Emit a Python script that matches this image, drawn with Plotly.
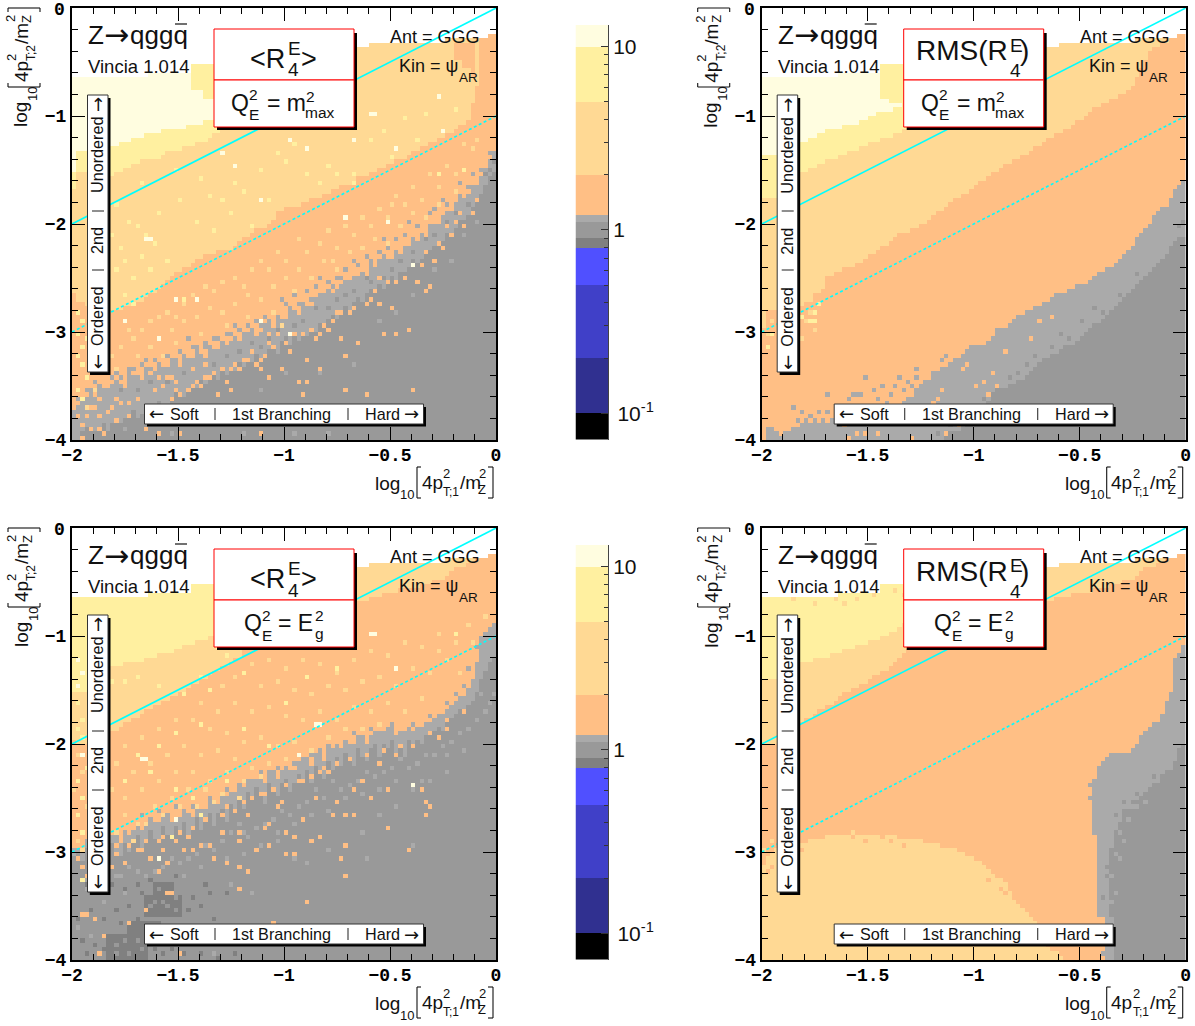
import math
import plotly.graph_objects as go

W, H = 1195, 1026
DX, DY = 689.7, 520
PANEL_X = (72, 496)
PANEL_Y = (8, 440)
CBAR_X = (575.5, 608)
CBAR_Y = (25, 439.5)

X_TICKS = [-2, -1.5, -1, -0.5, 0]
X_TEXT = ["−2", "−1.5", "−1", "−0.5", "0"]
Y_TICKS = [-4, -3, -2, -1]
Y_TEXT = ["−4", "−3", "−2", "−1"]
Y_TOP_TEXT = "0"
X_MINOR = [-1.9, -1.8, -1.7, -1.6, -1.4, -1.3, -1.2, -1.1, -0.9, -0.8, -0.7, -0.6, -0.4, -0.3, -0.2, -0.1]
Y_MINOR = [-3.8, -3.6, -3.4, -3.2, -2.8, -2.6, -2.4, -2.2, -1.8, -1.6, -1.4, -1.2, -0.8, -0.6, -0.4, -0.2]
DIAG_X = [-2, 0]
DIAG_SOLID = [-2, 0]
DIAG_DOT = [-3, -1]

# colour levels
LEVELS = [0.072, 0.1, 0.2, 0.5, 0.8, 0.9, 1.1, 1.2, 2, 5, 10, 13.1]
COLORS = ["#000000", "#303090", "#4040C8", "#5050FF", "#808080", "#999999",
          "#AAAAAA", "#FFBF85", "#FFD994", "#FFF0A0", "#FFFDE0"]
CB_TICKS = [0.1, 1, 10]
CB_TEXT = ["\u200910<sup>-1</sup>", "1", "10"]
CB_MINOR = [0.2, 0.3, 0.4, 0.5, 0.6, 0.7, 0.8, 0.9, 2, 3, 4, 5, 6, 7, 8, 9]

DK, MID, LG, OR, FD, YE, PA = 0.85, 1.0, 1.15, 1.5, 3.2, 7.0, 11.0

# first filled row (counted from the top) in each of the 100 columns
TOP = [16]*18 + [15]*10 + [13]*39 + [9]*3 + [8]*18 + [7]*10 + [6]*2
FULL = [100]*100

# ---- panel 1: <R> , m2max
P1_PALE = [38,33,33,33,33,33,33,33,33,32, 32,31,31,31,30,30,30,29,29,29,
           29,28,28,28,28,28,28,27,27,27, 27,26,26,26] + [0]*66
P1_YEL = [42,38,38,38,38,38,38,38,38,39, 38,38,37,37,36,36,35,35,35,35,
          34,34,33,33,33,33,32,32,32,31, 31,31,30,29,29,28,28] + [0]*63
P1_FD = [66,68,68,69,70,70,70,70,70,70, 70,70,69,69,69,68,68,67,66,66,
         65,64,63,62,61,61,60,60,59,58, 58,57,57,57,56,56,56,56,55,54,
         53,53,52,51,51,51,50,49,47,47, 46,46,46,46,45,45,44,44,44,43,
         43,42,42,41,41,41,40,39,39,39, 38,38,37,37,36,36,35,35,35,34,
         33,33,32,32,31,31,30,30,29,29, 28,27,27,26,22,18,7,7,6,6]
P1_OR = [93,92,92,90,89,90,88,88,89,87, 86,87,87,84,85,85,85,83,84,84,
         82,83,83,81,82,83,81,81,81,79, 80,81,78,79,79,77,78,77,76,77,
         76,75,74,76,75,73,73,74,71,72, 72,70,70,71,68,69,69,67,66,67,
         65,66,65,64,63,64,62,62,61,62, 59,60,59,57,58,58,56,57,55,55,
         53,54,52,53,51,50,50,48,47,47, 45,44,44,43,41,41,39,37,35,33]
P1_LG = [100,100,98,97,97,98,97,96,98,96, 95,96,95,95,93,95,94,92,94,92,
         91,92,92,90,89,90,90,88,87,88, 86,87,86,85,86,84,85,83,84,82,
         83,81,82,80,81,81,79,79,80,77, 78,78,76,77,75,76,74,75,73,73,
         72,71,72,70,69,70,68,67,68,66, 65,66,64,65,63,62,63,61,61,60,
         58,59,58,56,56,55,54,54,52,52, 51,49,49,48,46,45,43,41,39,38]
P1_BOX = [(28,33,13,18,YE),(31,33,19,20,YE),(90,91,8,11,OR),(92,93,8,13,OR),(94,94,8,15,OR)]
P1_DOT_PA = [(70,24),(71,24),(86,20),(44,44),(76,32),(17,53),(18,53),(74,49),(38,36),(64,48),(35,33),(51,30),
             (55,32),(24,67),(29,67),(44,72),(51,75),(80,59),(20,76),(12,72),(87,28),(66,30)]
P1_DOT_YE = [(20,34),(25,44),(27,31),(32,43),(44,37),(38,40),(55,38),(58,40),(66,40),(66,38),(86,38),(92,37),
             (60,36),(48,33),(52,31),(70,30),(73,28),(78,25),(83,24),(90,23),(10,45),(13,49),(15,50),(17,52),
             (19,54),(20,47),(29,49),(33,51),(37,47),(42,50),(46,44),(16,40),(24,37),(30,39),(10,60),(12,58),
             (14,62),(18,60),(22,58),(12,66),(14,68),(26,67),(1,70),(2,72),(1,75),(3,76),(2,78),(1,80),(2,82),
             (3,85),(1,88),(2,90),(35,44),(40,42),(50,35),(62,38),(75,34),(81,30),(9,52),(11,55),(16,57)]
P1_DOT_FD = [(12,72),(13,74),(14,76),(11,78),(16,74),(18,72),(20,71),(22,70),(24,71),(26,68),(28,66),(31,64),
             (33,65),(35,63),(38,62),(40,64),(42,60),(44,58),(46,60),(48,56),(50,58),(53,53),(55,56),(58,54),
             (60,51),(62,55),(64,50),(66,52),(68,48),(70,50),(72,46),(74,48),(76,43),(78,45),(80,41),(82,44),
             (84,38),(86,41),(88,36),(90,38),(92,31),(94,32),(20,76),(23,74),(26,72),(29,71),(32,69),(35,70),
             (38,68),(41,66),(44,67),(47,64),(50,62),(53,60),(56,62),(59,58),(62,60),(65,56),(68,55),(71,53),
             (74,54),(77,50),(80,47),(83,48),(86,45),(15,80),(18,78),(21,80),(24,77),(30,75),(36,73),(41,71),
             (9,80),(10,83),(3,92),(5,88),(7,84),(47,70),(49,73),(52,65),(61,58),(75,45),(90,42),(95,30)]
P1_DOT_OR = [(80,88),(69,89),(64,88),(54,89),(53,86),(55,86),(58,83),(46,85),(44,83),(39,83),(37,88),(33,84),
             (31,85),(28,87),(25,89),(20,98),(25,98),(44,98),(79,74),(76,75),(73,75),(67,77),(63,76),(64,80),
             (62,70),(63,70),(70,67),(72,68),(75,69),(84,64),(83,65),(81,63),(51,75),(52,75),(48,75),(46,75),
             (44,72),(55,81),(49,83),(51,79),(42,79),(44,81),(40,81),(37,83),(31,82),(28,83),(22,85),(23,85),
             (24,86),(20,85),(18,84),(16,85),(12,87),(10,90),(6,90),(4,92),(5,92),(8,93),(13,91),(13,94),
             (2,96),(4,97),(7,98),(1,94),(88,50),(86,54),(91,47),(95,44),(60,74),(57,76),(34,89),(30,87),
             (2,99),(6,97),(10,95),(17,97),
             (94,47),(92,50),(89,52),(87,55),(85,58),(82,59),(78,62),(76,63),(74,63),(71,65),(69,68),(66,69),
             (65,70),(61,72),(59,73),(56,74),(54,75),(50,77),(47,78),(45,80),(43,82),(41,81),(38,82),(35,83),
             (32,85),(29,86),(27,88),(24,88),(21,87),(19,88),(15,90),(11,91),(9,92),(6,94),(3,94),(90,49),
             (83,56),(72,62),(58,75),(46,77),(36,86),(23,90)]
P1_DOT_LG = [(68,61),(65,63),(61,64),(59,66),(51,69),(48,71),(40,75),(34,76),(29,78),(26,80),(17,81),(18,83),
             (11,85),(8,88),(5,86),(72,58),(75,59),(77,57),(63,62),(56,67),(53,68),(44,73),(37,75),(31,78),
             (24,81),(20,82),(14,83),(10,84),(3,88),(80,53),(84,50),(88,45),(91,43),(94,41),(70,58),(46,72),
             (42,74),(96,37),(98,33),(58,84),(66,82),(72,72),(76,70),(80,66),(85,60),(89,58),(92,52),(95,49),
             (50,84),(44,88),(36,92),(30,92),(5,96),(12,97),(23,98),(40,98),(52,98),(60,98),
             (93,41),(90,42),(87,44),(84,47),(81,50),(78,52),(76,53),(74,55),(72,56),(69,57),(67,59),(64,60),
             (62,62),(60,63),(57,64),(55,65),(52,66),(50,68),(47,70),(45,71),(43,72),(41,73),(39,74),(36,75),
             (33,76),(31,77),(28,78),(25,79),(22,80),(19,81),(16,82),(13,83),(9,85),(6,87),(4,88),(2,91),(1,90),
             (94,38),(91,40),(85,46),(79,49),(73,53),(66,58),(58,62),(49,67),(38,73),(27,76),(15,80)]
P1_DOT_MID = [(70,63),(66,65),(60,69),(54,72),(48,74),(42,77),(36,80),(28,83),(22,86),(15,88),(75,60),(80,56),
              (85,52),(90,47),(93,45),(97,38),(99,35),(98,37),(73,62),(62,67),(50,76),(44,78),(88,49),(83,53),
              (77,58),(69,62),(64,66),(57,69),(52,73),(46,76),(39,79),(33,82),(26,84),(18,86),(11,88)]

# ---- panel 2: RMS , m2max
P2_PALE = [34,34,34,34,33,33,33,33,33,31, 31,30,30,29,29,28,28,28,28,27,
           27,27,27,26,26,25,25,24,24,24, 24,23,23] + [0]*67
P2_YEL = [44,44,44,44,42,42,42,42,42,38, 38,37,37,36,36,35,35,35,34,34,
          33,33,33,32,32,31,31,31,30,30, 30,29,29,28,28,28,27] + [0]*63
P2_FD = [74,70,70,70,70,70,70,70,70,69, 68,68,66,66,65,62,62,61,61,60,
         60,60,59,59,58,57,57,56,55,55, 54,53,52,52,52,51,51,50,50,49,
         48,47,47,46,45,44,44,43,43,42, 41,40,40,39,38,38,37,36,36,35,
         35,34,34,33,32,32,31,30,30,29, 29,28,28,27,26,26,25,24,23,23,
         22,22,21,21,20,20,19,18,16,14, 12,10,9,9,8,8,7,7,6,6]
P2_OR = [100,97,97,98,99,98,98,97,97,96, 96,96,96,96,96,96,96,95,95,95,
         95,95,95,95,95,95,95,94,94,93, 92,92,92,91,90,90,88,87,87,86,
         84,84,83,83,82,82,81,80,79,78, 78,78,78,77,76,74,74,74,73,72,
         71,71,70,70,69,69,68,68,67,66, 66,66,65,65,64,64,64,63,62,61,
         61,60,60,59,58,57,56,55,53,52, 51,50,48,47,46,46,44,42,41,40]
P2_LG = [100]*43 + [99,98,98,98,97,96,95,
         94,93,92,91,89,89,88,88,87,87, 86,86,85,84,83,82,81,81,80,80,
         79,78,78,78,77,76,75,74,73,73, 72,71,70,69,68,67,66,65,64,63,
         62,61,60,59,58,57,55,54,53,53]
P2_BOX = [(28,29,13,20,YE),(30,32,13,21,YE)]
P2_DOT_YE = [(9,71),(11,72),(12,70),(13,68),(2,75),(1,78),(12,72)]
P2_DOT_FD = [(10,72),(12,74),(9,76),(11,70),(1,75),(2,72)]
P2_DOT_OR = [(63,76),(57,79),(52,86),(54,84),(55,87),(53,89),(68,71),(65,72),(40,91),(36,93),(24,98),(22,98),
             (19,96),(20,99),(27,98),(35,99),(43,98),(46,96),(50,87),(48,82),(47,83),(42,88),(41,90)]
P2_DOT_LG = [(24,85),(32,85),(36,85),(36,83),(43,80),(45,81),(26,88),(28,87),(30,89),(35,87),(33,88),(38,86),
             (39,87),(15,89),(20,90),(21,89),(22,89),(23,89),(7,92),(9,93),(11,94),(13,93),(15,93),(8,95),(10,95),
             (12,95),(14,95),(16,95),(10,96),(11,96),(14,96),(13,97),(1,97),(2,98),(31,87),(34,86),(37,89),
             (29,91),(27,90),(25,92),(40,85),(42,81),(44,84),(46,82),(49,79),(51,80)]
P2_DOT_MID = [(72,76),(75,72),(78,69),(70,75),(68,78),(64,80),(80,70),(84,66),(88,61),(62,82),(66,81),(58,85),
              (60,84),(55,88),(52,90),(48,92),(44,96),(41,98),(50,97),(56,96),(60,95),(66,93),(99,49),(98,50)]

# ---- panel 3: <R> , E_g^2
P3_YEL = [38,38,38,38,35,34,34,33,33,32, 32,32,31,31,31,31,31,30,30,30,
          29,29,29,29,28,28,27,27,27,26, 26,26,25,25] + [0]*66
P3_FD = [49,50,50,50,49,49,48,48,48,47, 47,46,45,45,44,44,43,42,42,41,
         41,40,40,39,39,38,38,37,36,36, 35,35,34,33,33,32,32,31,30,30,
         28,28,27,27,27,27,27,27,27,27, 27,27,27,27,27,27,27,27,27,27,
         27,27,27,27,27,27,17,17,17,17, 16,16,16,15,15,15,15,14,14,14,
         14,14,13,13,13,12,12,12,11,10, 9,9,9,8,8,7,7,7,6,6]
P3_OR = [74,74,75,72,73,74,72,72,74,71, 71,73,70,71,70,68,70,69,67,68,
         68,66,66,68,67,67,65,66,67,64, 65,65,63,63,64,62,62,61,61,59,
         60,58,58,58,57,59,56,56,58,56, 55,56,56,54,54,53,55,52,52,54,
         51,51,50,51,49,50,50,48,48,50, 48,47,48,47,47,46,48,47,47,46,
         47,46,46,45,45,44,43,43,42,41, 40,39,39,37,35,31,25,24,23,22]
P3_LG = [76,75,77,74,77,76,75,76,77,73, 75,76,73,75,73,71,74,72,70,72,
         73,69,71,72,69,71,68,71,69,67, 70,68,66,69,66,65,68,64,66,62,
         65,61,63,60,62,64,59,61,62,59, 58,61,59,57,59,56,59,55,57,58,
         54,56,53,55,52,54,55,51,53,54, 51,50,53,50,51,49,52,50,53,49,
         50,49,50,48,48,47,46,47,45,44, 43,42,42,41,40,38,35,33,31,30]
P3_BOX = [(17,25,85,89,DK),(8,17,94,99,DK),(13,20,91,93,DK),(19,23,82,84,DK)]
P3_DOT_PA = [(1,30),(2,33),(1,36),(20,76),(24,67),(80,59),(70,24),(71,24),(76,32),(57,45),(58,45),(53,52),(16,53),(17,53),(2,52)]
P3_DOT_YE = [(9,35),(12,35),(15,34),(20,36),(30,34),(34,27),(36,29),(1,40),(2,44),(1,46),(2,48),(3,55),(1,58),(2,62),
             (1,66),(2,70),(2,81),(26,38),(24,47),(32,37),(40,33),(55,34),(30,45),(40,46),(20,50),(15,52),(12,58),
             (18,56),(24,60),(28,62),(23,71),(30,66),(36,58),(46,50),(66,22),(70,24),(62,32),(50,40),(90,24)]
P3_DOT_FD = [(35,36),(38,34),(42,31),(46,30),(50,32),(54,30),(58,31),(62,33),(66,30),(70,28),(74,29),(78,26),(82,27),
             (86,24),(90,26),(93,22),(44,36),(48,35),(52,37),(56,38),(60,36),(64,37),(68,35),(72,34),(76,36),(80,32),
             (84,33),(88,30),(91,33),(30,40),(34,42),(38,40),(42,42),(46,41),(50,43),(54,44),(58,42),(62,44),(66,41),
             (70,42),(74,40),(78,42),(82,39),(12,50),(16,48),(20,46),(24,44),(28,44),(32,46),(36,47),(40,49),(44,48),
             (48,50),(52,49),(56,51),(60,48),(64,46),(68,46),(72,45),(10,54),(14,56),(18,54),(22,52),(26,50),(30,52),
             (34,51),(38,53),(42,55),(46,54),(50,53),(9,60),(12,62),(16,60),(20,58),(24,56),(28,56),(32,58),(36,56),
             (40,58),(44,57),(12,66),(15,68),(19,64),(23,62),(27,60),(31,60),(35,61),(39,62),(10,70),(14,72),(17,68),
             (21,66),(25,64),(29,64),(1,52),(2,56),(0,60),(3,64),(1,72),(2,74),(33,63),(86,28),(94,26),(97,20)]
P3_DOT_OR = [(79,74),(63,76),(64,80),(55,86),(39,83),(41,79),(39,78),(36,77),(33,76),(50,75),(52,75),(64,73),(56,72),
             (58,71),(52,71),(50,70),(54,67),(46,68),(45,69),(39,70),(35,70),(74,69),(61,66),(64,66),(66,66),(83,66),
             (84,64),(83,63),(70,62),(66,60),(82,60),(57,62),(49,63),(48,64),(41,66),(39,72),(32,73),(30,73),(28,74),
             (26,74),(21,74),(18,76),(22,77),(20,79),(12,77),(9,78),(22,84),(23,84),(17,88),(13,91),(7,94),(5,90),(2,89),
             (3,89),(6,98),(25,98),(47,91),(21,71),(24,72),(15,74),(16,74),(76,52),(72,54),(68,58),(60,56),(86,48),(88,46),
             (92,42),(74,60),(62,63),(46,73),(43,74),(1,76),(3,80),(10,75),(27,71),(36,64),(45,61),(54,58),(58,56),
             (88,44),(84,47),(80,50),(77,50),(73,51),(69,52),(65,53),(62,54),(59,55),(56,57),(53,58),(50,59),(47,60),
             (44,61),(42,62),(40,63),(38,65),(35,66),(31,67),(28,69),(25,70),(20,72),(17,72),(13,73),(10,73),(7,76),
             (5,76),(2,78)]
P3_DOT_LG = [(75,45),(78,47),(72,47),(68,48),(64,49),(60,50),(56,52),(52,54),(48,55),(44,56),(40,58),(36,60),(32,62),
             (28,64),(24,64),(20,65),(16,66),(50,53),(54,53),(58,51),(62,50),(66,47),(70,46),(74,46),(80,45),(84,43),
             (88,40),(90,38),(92,36),(93,32),(95,27),(40,70),(48,72),(52,76),(30,78),(26,80),(88,52),(82,58),(76,64),
             (72,66),(68,70),(60,74),(55,77),(42,84),(37,82),(80,73),(69,76),(10,80),(12,84),(7,86),(3,83),(1,92),(4,94),(33,98),
             (96,38),(97,42),(98,40),(99,38),(95,44),(93,46),(91,47),(89,49),(87,50),(85,52),(83,52),(81,54),(79,55),(77,53),
             (75,55),(73,56),(71,57),(69,56),(67,58),(65,59),(63,60),(61,58),(59,62),(57,60),(55,63),(53,64),(51,66),(49,65),
             (47,67),(45,68),(43,69),(41,71),(39,68),(37,70),(35,72),(33,74),(31,73),(29,75),(27,76),(25,77),(23,76),(21,78),
             (19,79),(17,80),(15,79),(13,78),(11,80),(9,82),(7,81),(5,80),(3,81),(92,51),(88,56),(84,58),(80,60),(76,58),
             (72,60),(68,61),(64,62),(60,65),(56,66),(52,68),(48,70),(44,73),(40,75),(36,76)]
P3_DOT_DK = [(3,82),(6,83),(9,82),(12,83),(15,82),(18,81),(24,80),(28,85),(32,84),(30,87),(27,88),(33,90),(36,84),
             (29,92),(25,92),(22,93),(20,95),(1,90),(4,88),(7,90),(10,88),(13,87),(15,90),(2,95),(5,96),(3,98),(7,97),
             (19,97),(21,98),(23,97),(26,98),(30,98),(34,99),(38,98),(4,84),(11,91),(16,84),(31,82),(23,95)]
P3_DOT_MID = [(10,96),(13,98),(15,95),(19,86),(22,87),(24,85),(18,92),(20,83),(18,87),(21,86),(24,88),(10,98),(12,95),(16,97)]

# ---- panel 4: RMS , E_g^2
P4_YEL = [35,35,35,35,34,34,33,33,32,31, 31,31,30,30,30,30,29,29,29,28,
          28,28,27,27,27,26,26,26,25,25, 24,24,23,22] + [0]*66
P4_FD = [50,50,50,50,49,49,48,47,46,45, 44,44,43,42,42,41,41,40,39,38,
         38,37,37,36,36,35,34,34,33,33, 32,31,30,29,28,28,27,27] + [26]*28 + [
         18,17,17,16,16,16,16,15,15,15,15,15,14,14,14,14,13,13,13,12,12,12,11,10,9,9,9,8,8,7,7,7,6,6]
P4_OR1 = [78,76,75,74,74,74,74,74,74,73, 73,72,72,72,72,71,71,71,71,71,
          71,70,71,71,71,71,71,71,72,71, 71,71,72,72,72,72,72,72,73,73,
          73,73,73,74,74,74,75,75,76,76, 77,77,78,79,80,80,81,82,84,86,
          87,88,89,90,91,93,95,97,98,99, 99] + [0]*29
P4_FD2 = [100]*71 + [0]*29
P4_OR2 = [100]*77 + [59,58,55,54,53,52,52,52,52,52,51,50,48,47,46,45,45,43,40,38,30,29,27]
P4_LG = [100]*81 + [100,74,70,68,65,65,65,63,62,61, 60,59,59,58,57,56,54,51,50]
P4_BOX = [(77,77,60,61,OR),(77,77,63,99,OR),(78,78,71,99,OR),(79,80,90,99,OR),(81,82,90,99,LG)]
P4_DOT_YE = [(9,14),(13,15),(20,16),(24,15),(29,14)]
P4_DOT_FD = [(7,16),(10,15),(12,17),(17,16),(19,17),(22,16),(26,15),(31,14),(33,15),(1,76),(2,72),(0,74),(65,99),(66,99),(68,98),(69,98),(55,82)]
P4_DOT_OR = [(5,74),(9,74),(11,71),(14,71),(21,71),(24,72),(30,72),(33,73),(38,72),(42,73),(53,81),(55,80),(57,84),(56,83),(65,90),(62,88),(2,78),(1,79),(0,75),(1,74)]
P4_DOT_LG = [(84,70),(86,67),(88,64),(83,75),(82,80),(84,76),(82,86),(83,84),(85,72),(80,98),(90,63)]
P4_DOT_MID = [(83,66),(85,63),(87,63),(88,61),(92,57),(94,57),(95,56),(81,80),(81,78),(80,85)]


def build(stack, boxes, dots):
    z = [[None]*100 for _ in range(100)]
    for c in range(100):
        assert len(TOP) == 100
        prev = TOP[c]
        for val, edge in stack:
            assert len(edge) == 100, (val, len(edge))
            for r in range(prev, edge[c]):
                z[99-r][c] = math.log10(val)
            prev = max(prev, edge[c])
    for c0, c1, r0, r1, val in boxes:
        for c in range(c0, c1+1):
            for r in range(r0, r1+1):
                if r >= TOP[c]:
                    z[99-r][c] = math.log10(val)
    for val, pts in dots:
        for c, r in pts:
            if r >= TOP[c] and r < 100:
                z[99-r][c] = math.log10(val)
    return z


lo, hi = math.log10(LEVELS[0]), math.log10(LEVELS[-1])
cs = []
for i, col in enumerate(COLORS):
    cs.append([(math.log10(LEVELS[i])-lo)/(hi-lo), col])
    cs.append([(math.log10(LEVELS[i+1])-lo)/(hi-lo), col])

Z1 = build([(PA,P1_PALE),(YE,P1_YEL),(FD,P1_FD),(OR,P1_OR),(LG,P1_LG),(MID,FULL)], P1_BOX,
           [(LG,P1_DOT_LG),(MID,P1_DOT_MID),(OR,P1_DOT_OR),(FD,P1_DOT_FD),(YE,P1_DOT_YE),(PA,P1_DOT_PA)])
Z2 = build([(PA,P2_PALE),(YE,P2_YEL),(FD,P2_FD),(OR,P2_OR),(LG,P2_LG),(MID,FULL)], P2_BOX,
           [(LG,P2_DOT_LG),(MID,P2_DOT_MID),(OR,P2_DOT_OR),(FD,P2_DOT_FD),(YE,P2_DOT_YE)])
Z3 = build([(YE,P3_YEL),(FD,P3_FD),(OR,P3_OR),(LG,P3_LG),(MID,FULL)], P3_BOX,
           [(LG,P3_DOT_LG),(DK,P3_DOT_DK),(MID,P3_DOT_MID),(OR,P3_DOT_OR),(FD,P3_DOT_FD),(YE,P3_DOT_YE),(PA,P3_DOT_PA)])
Z4 = build([(YE,P4_YEL),(FD,P4_FD),(OR,P4_OR1),(FD,P4_FD2),(OR,P4_OR2),(LG,P4_LG),(MID,FULL)], P4_BOX,
           [(LG,P4_DOT_LG),(MID,P4_DOT_MID),(OR,P4_DOT_OR),(FD,P4_DOT_FD),(YE,P4_DOT_YE)])

fig = go.Figure()
shapes, notes = [], []


def px(x):
    return x / W


def py(y):
    return 1 - y / H


SANS = "Liberation Sans"
ARROW = "DejaVu Sans"


def text(x, y, s, size, anchor="left", angle=0, color="#111111", font=SANS, bold=False):
    notes.append(dict(x=px(x), y=py(y), xref="paper", yref="paper", text=s, showarrow=False,
                      xanchor=anchor, yanchor="middle", textangle=angle, borderpad=0, borderwidth=0,
                      font=dict(family=font, size=size, color=color)))


def rect(x0, y0, x1, y1, fill, line=None, lw=1):
    shapes.append(dict(type="rect", xref="paper", yref="paper", x0=px(x0), x1=px(x1), y0=py(y0), y1=py(y1),
                       fillcolor=fill, line=dict(color=line or fill, width=lw if line else 0), layer="above"))


def seg(x0, y0, x1, y1, color="#111111", lw=1.1):
    shapes.append(dict(type="line", xref="paper", yref="paper", x0=px(x0), x1=px(x1), y0=py(y0), y1=py(y1),
                       line=dict(color=color, width=lw), layer="above"))


def decorate(dx, dy, title, sub):
    # top label of the y axis
    text(65+dx, 10+dy, f"<b>{Y_TOP_TEXT}</b>", 18, "right", color="#000000", font="Liberation Mono")
    # axis title x
    text(375+dx, 483+dy, "log", 19)
    text(400+dx, 495+dy, "10", 13)
    seg(417+dx, 467+dy, 417+dx, 498+dy); seg(417+dx, 467+dy, 421+dx, 467+dy); seg(417+dx, 498+dy, 421+dx, 498+dy)
    text(421.5+dx, 482+dy, "4p", 19)
    text(443+dx, 473+dy, "2", 13)
    text(443+dx, 492+dy, "T;1", 12)
    text(460+dx, 482+dy, "/m", 19)
    text(479+dx, 473+dy, "2", 13)
    text(478+dx, 489+dy, "Z", 13)
    seg(493+dx, 467+dy, 493+dx, 498+dy); seg(488+dx, 467+dy, 493+dx, 467+dy); seg(488+dx, 498+dy, 493+dx, 498+dy)
    # axis title y
    text(21+dx, 115+dy, "log", 19, "center", -90)
    text(33+dx, 94+dy, "10", 13, "center", -90)
    seg(8+dx, 87+dy, 40+dx, 87+dy); seg(8+dx, 87+dy, 8+dx, 83+dy); seg(40+dx, 87+dy, 40+dx, 83+dy)
    text(21+dx, 72+dy, "4p", 19, "center", -90)
    text(11+dx, 58+dy, "2", 13, "center", -90)
    text(31+dx, 53+dy, "T;2", 12, "center", -90)
    text(21+dx, 34+dy, "/m", 19, "center", -90)
    text(11+dx, 19+dy, "2", 13, "center", -90)
    text(27+dx, 19+dy, "Z", 13, "center", -90)
    seg(8+dx, 8+dy, 40+dx, 8+dy); seg(8+dx, 8+dy, 8+dx, 12+dy); seg(40+dx, 8+dy, 40+dx, 12+dy)
    # free labels
    text(88+dx, 35+dy, "Z", 26)
    text(104+dx, 35+dy, "→", 30, font=ARROW)
    text(130+dx, 35+dy, "qggq", 26)
    seg(175+dx, 24+dy, 187+dx, 24+dy, lw=1.2)
    text(88+dx, 66+dy, "Vincia 1.014", 18.5)
    text(480+dx, 37+dy, "Ant = GGG", 18, "right")
    text(399+dx, 66+dy, "Kin = ψ", 18)
    text(459+dx, 77+dy, "AR", 13.5)
    # title box
    rect(217+dx, 33+dy, 357+dx, 130+dy, "#000000")
    rect(214+dx, 29+dy, 354+dx, 80+dy, "#FFFFFF", "#FF0000", 1)
    rect(214+dx, 80+dy, 354+dx, 127+dy, "#FFFFFF", "#FF0000", 1)
    title(dx, dy)
    sub(dx, dy)
    # side box
    rect(90+dx, 98+dy, 110.5+dx, 375+dy, "#000000")
    rect(87.5+dx, 95+dy, 108+dx, 372+dy, "#FFFFFF", "#333333", 1)
    text(97+dx, 362+dy, "←", 18, "center", -90, font=ARROW)
    text(97+dx, 317+dy, "Ordered", 16.2, "center", -90)
    seg(92+dx, 270+dy, 104+dx, 270+dy, "#333333")
    text(97+dx, 241+dy, "2nd", 16.2, "center", -90)
    seg(92+dx, 211+dy, 104+dx, 211+dy, "#333333")
    text(97+dx, 155+dy, "Unordered", 16.2, "center", -90)
    text(97+dx, 105+dy, "→", 18, "center", -90, font=ARROW)
    # bottom box
    rect(147+dx, 407+dy, 426+dx, 426.5+dy, "#000000")
    rect(144.5+dx, 404+dy, 423.5+dx, 424+dy, "#FFFFFF", "#333333", 1)
    text(149+dx, 414+dy, "←", 18, font=ARROW)
    text(170+dx, 414+dy, "Soft", 16.2)
    seg(215+dx, 408+dy, 215+dx, 420+dy, "#333333")
    text(232+dx, 414+dy, "1st Branching", 16.2)
    seg(348+dx, 408+dy, 348+dx, 420+dy, "#333333")
    text(365+dx, 414+dy, "Hard", 16.2)
    text(404+dx, 414+dy, "→", 18, font=ARROW)


def title_mean(dx, dy):
    text(250+dx, 59+dy, "&lt;R", 27)
    text(288+dx, 48+dy, "E", 19)
    text(288+dx, 70+dy, "4", 19)
    text(301+dx, 59+dy, "&gt;", 27)


def title_rms(dx, dy):
    text(226+dx, 51+dy, "RMS(R", 28)
    text(320+dx, 45+dy, "E", 19)
    text(320+dx, 71+dy, "4", 19)
    text(330+dx, 51+dy, ")", 28)


def sub_m(dx, dy):
    text(231+dx, 103+dy, "Q", 23)
    text(249+dx, 95+dy, "2", 15.5)
    text(249+dx, 115+dy, "E", 15.5)
    text(267+dx, 103+dy, "= m", 23)
    text(306+dx, 96+dy, "2", 15.5)
    text(305+dx, 112+dy, "max", 15.5)


def sub_e(dx, dy):
    text(244+dx, 103+dy, "Q", 23)
    text(262+dx, 95+dy, "2", 15.5)
    text(262+dx, 115+dy, "E", 15.5)
    text(278+dx, 103+dy, "= E", 23)
    text(315+dx, 95+dy, "2", 15.5)
    text(315+dx, 113+dy, "g", 15.5)


TICKFONT = dict(family="Liberation Mono", size=18, color="#000000", weight="bold")


def add_panel(i, z, dx, dy, title, sub):
    xa, ya = f"x{i}", f"y{i}"
    fig.add_trace(go.Heatmap(z=z, x0=-1.99, dx=0.02, y0=-3.98, dy=0.04, colorscale=cs, zmin=lo, zmax=hi,
                             showscale=False, hoverongaps=False, xaxis=xa, yaxis=ya))
    fig.add_trace(go.Scatter(x=DIAG_X, y=DIAG_SOLID, mode="lines", line=dict(color="#00FFFF", width=1.6),
                             xaxis=xa, yaxis=ya, showlegend=False, cliponaxis=True))
    fig.add_trace(go.Scatter(x=DIAG_X, y=DIAG_DOT, mode="lines", line=dict(color="#00FFFF", width=1.6, dash="3px,2.5px"),
                             xaxis=xa, yaxis=ya, showlegend=False))
    common = dict(showgrid=False, zeroline=False, showline=True, linecolor="#000000", linewidth=2, mirror="allticks",
                  ticks="inside", tickcolor="#000000", tickwidth=1, ticklen=13, tickfont=TICKFONT, tickmode="array",
                  layer="above traces")
    fig.layout[f"xaxis{i}"] = dict(common, domain=[px(PANEL_X[0]+dx), px(PANEL_X[1]+dx)], range=[-2, 0], anchor=f"y{i}",
                                   tickvals=X_TICKS, ticktext=X_TEXT, ticklabelstandoff=-3,
                                   minor=dict(tickmode="array", tickvals=X_MINOR, ticks="inside", ticklen=6, tickwidth=1, tickcolor="#000000"))
    fig.layout[f"yaxis{i}"] = dict(common, domain=[py(PANEL_Y[1]+dy), py(PANEL_Y[0]+dy)], range=[-4, 0], anchor=f"x{i}",
                                   tickvals=Y_TICKS, ticktext=Y_TEXT,
                                   minor=dict(tickmode="array", tickvals=Y_MINOR, ticks="inside", ticklen=6, tickwidth=1, tickcolor="#000000"))
    decorate(dx, dy, title, sub)


def add_cbar(i, dy):
    mids = [[math.log10(math.sqrt(LEVELS[k]*LEVELS[k+1]))] for k in range(len(COLORS))]
    fig.add_trace(go.Heatmap(z=mids, x=[0, 1], y=LEVELS, colorscale=cs, zmin=lo, zmax=hi, showscale=False,
                             xaxis=f"x{i}", yaxis=f"y{i}"))
    fig.layout[f"xaxis{i}"] = dict(domain=[px(CBAR_X[0]), px(CBAR_X[1])], range=[0, 1], visible=False, anchor=f"y{i}")
    fig.layout[f"yaxis{i}"] = dict(domain=[py(CBAR_Y[1]+dy), py(CBAR_Y[0]+dy)], type="log", range=[lo, hi], anchor=f"x{i}",
                                   side="right", showgrid=False, zeroline=False, showline=True, linecolor="#444444", linewidth=1,
                                   ticks="inside", ticklen=7, tickwidth=1, tickcolor="#333333", tickmode="array",
                                   tickvals=CB_TICKS, ticktext=CB_TEXT, layer="above traces",
                                   tickfont=dict(family=SANS, size=21, color="#111111"),
                                   minor=dict(tickmode="array", tickvals=CB_MINOR, ticks="inside", ticklen=4, tickwidth=1, tickcolor="#333333"))


add_panel(1, Z1, 0, 0, title_mean, sub_m)
add_panel(2, Z2, DX, 0, title_rms, sub_m)
add_panel(3, Z3, 0, DY, title_mean, sub_e)
add_panel(4, Z4, DX, DY, title_rms, sub_e)
add_cbar(5, 0)
add_cbar(6, DY)

fig.update_layout(width=W, height=H, autosize=False,
                  margin=dict(l=0, r=0, t=0, b=0, pad=0, autoexpand=False),
                  paper_bgcolor="#FFFFFF", plot_bgcolor="#FFFFFF", showlegend=False,
                  shapes=shapes, annotations=notes)
fig.write_html("out.html", config=dict(displayModeBar=False),
               post_script="document.body.style.margin='0';document.documentElement.style.overflow='hidden';")
